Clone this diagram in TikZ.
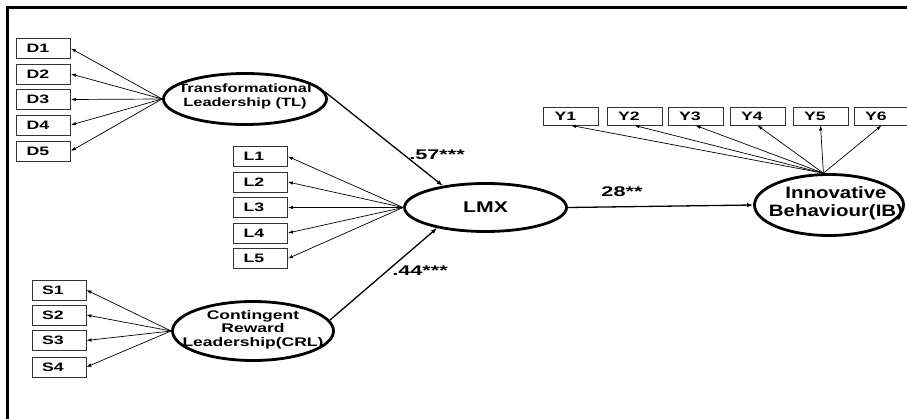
\documentclass[tikz,border=0pt]{standalone}
\usepackage{fontspec}
\setmainfont{Liberation Sans}
\usepackage{graphicx}
\usetikzlibrary{shapes.geometric,arrows.meta}
\newcommand\xst[2][1.45]{\scalebox{#1}[1]{#2}}
\begin{document}
\begin{tikzpicture}[x=1pt,y=-1pt,
  ind/.style={draw=black!80, line width=0.9pt, minimum height=20pt, text width=34pt,
    inner xsep=10pt, inner ysep=0pt, align=left, font=\fontsize{12.2}{12.5}\selectfont\bfseries},
  indy/.style={ind, minimum height=18pt, text width=33pt, inner xsep=11pt},
  lat/.style={ellipse, draw, line width=2.8pt, inner sep=0pt},
  lattxt/.style={align=center, inner sep=0pt},
  load/.style={-{Latex[length=5pt,width=3.5pt]}, line width=0.7pt},
  strpath/.style={-{Latex[length=6pt,width=4.5pt]}, line width=1.3pt},
  coef/.style={inner sep=0pt, font=\fontsize{14}{15}\selectfont\bfseries}
]
\useasboundingbox (0,0) rectangle (907,419);
% frame
\coordinate (fa) at (7,419);
\coordinate (fb) at (7,7.5);
\coordinate (fc) at (907,7.5);
\draw[line width=3pt] (fa) -- (fb) -- (fc);

% latent variables
\node[lat, minimum width=163pt, minimum height=51pt] (TL) at (245,99) {};
\node[lattxt, font=\fontsize{12}{14}\selectfont\bfseries] (TLt) at (245,97)
  {\xst[1.37]{\begin{tabular}{@{}c@{}}Transformational\\Leadership (TL)\end{tabular}}};
\node[lat, minimum width=162pt, minimum height=48pt] (LMX) at (485.5,207.5) {};
\node[lattxt, font=\fontsize{15.5}{16}\selectfont\bfseries] (LMXt) at (485.5,207.5) {\xst[1.37]{LMX}};
\node[lat, minimum width=161pt, minimum height=59pt] (CRL) at (253,331) {};
\node[lattxt, font=\fontsize{12.5}{13.5}\selectfont\bfseries] (CRLt) at (253,330)
  {\xst[1.4]{\begin{tabular}{@{}c@{}}Contingent\\Reward\\Leadership(CRL)\end{tabular}}};
\node[lat, minimum width=149pt, minimum height=61pt] (IB) at (829,205) {};
\node[lattxt, font=\fontsize{16.5}{18}\selectfont\bfseries] (IBt) at (836,204)
  {\xst[1.24]{\begin{tabular}{@{}c@{}}Innovative\\Behaviour(IB)\end{tabular}}};

% indicators
\foreach \i/\y in {1/48.5,2/74,3/99.5,4/125,5/151}
  \node[ind] (D\i) at (43.5,\y) {\xst{D\i}};
\foreach \i/\y in {1/156.5,2/182,3/207.5,4/233,5/258.5}
  \node[ind] (L\i) at (260.5,\y) {\xst{L\i}};
\foreach \i/\y in {1/290,2/315,3/340.5,4/367}
  \node[ind] (S\i) at (59,\y) {\xst{S\i}};
\foreach \i/\x in {1/571,2/634.5,3/695.5,4/757.5,5/820.5,6/881.5}
  \node[indy] (Y\i) at (\x,116) {\xst{Y\i}};

% loadings
\foreach \i in {1,...,5} \draw[load] (TL.west) -- (D\i.east);
\foreach \i in {1,...,5} \draw[load] (LMX.west) -- (L\i.east);
\foreach \i in {1,...,4} \draw[load] (CRL.west) -- (S\i.east);
\foreach \i in {1,...,6} \draw[load] (IB.100) -- (Y\i.south);

% structural paths
\draw[strpath] (TL.5) -- (LMX.153);
\draw[strpath] (CRL.8) -- (LMX.203);
\draw[strpath] (LMX.east) -- (IB.west);

% coefficients
\node[coef] (c1) at (437,155) {\xst[1.55]{.57***}};
\node[coef] (c2) at (420,271) {\xst[1.55]{.44***}};
\node[coef] (c3) at (622,192) {\xst[1.55]{28**}};
\end{tikzpicture}
\end{document}
